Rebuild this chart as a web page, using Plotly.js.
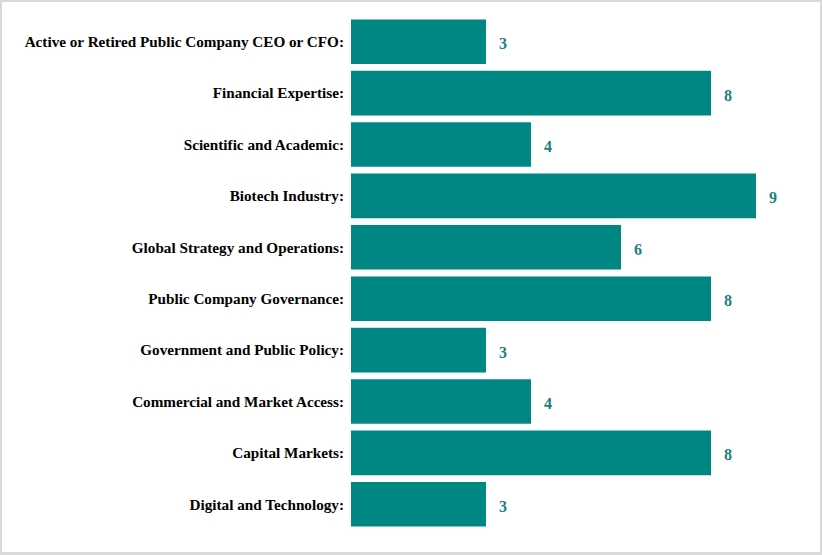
<!DOCTYPE html>
<html>
<head>
<meta charset="utf-8">
<script src="https://cdn.plot.ly/plotly-3.0.1.min.js"></script>
<style>
html,body{margin:0;padding:0;background:#fff;}
#wrap{position:relative;width:822px;height:555px;}
#chart{position:absolute;left:0;top:0;width:822px;height:555px;}
#frame{position:absolute;left:0;top:0;width:818px;height:550px;border:2px solid #d9d9d9;border-bottom-width:3px;pointer-events:none;}
</style>
</head>
<body>
<div id="wrap"><div id="chart"></div><div id="frame"></div></div>
<script>
const categories = [
  "Active or Retired Public Company CEO or CFO:",
  "Financial Expertise:",
  "Scientific and Academic:",
  "Biotech Industry:",
  "Global Strategy and Operations:",
  "Public Company Governance:",
  "Government and Public Policy:",
  "Commercial and Market Access:",
  "Capital Markets:",
  "Digital and Technology:"
];
const values = [3, 8, 4, 9, 6, 8, 3, 4, 8, 3];

const barColor = "#008784";
const labelColor = "#1b7f80";

const trace = {
  type: "bar",
  orientation: "h",
  x: values,
  y: categories,
  marker: {color: barColor},
  hoverinfo: "none"
};

const annotations = values.map((v, i) => ({
  x: v, y: categories[i], xref: "x", yref: "y",
  text: String(v), showarrow: false, xanchor: "left", xshift: 11, yshift: -2,
  font: {family: "Liberation Serif, Times New Roman, serif", size: 16, color: labelColor, weight: "bold"}
}));

const layout = {
  width: 822, height: 555,
  margin: {l: 351, r: 21, t: 16, b: 25},
  paper_bgcolor: "#ffffff", plot_bgcolor: "#ffffff",
  showlegend: false,
  bargap: 0.133,
  xaxis: {range: [0, 10], visible: false, fixedrange: true},
  yaxis: {
    autorange: "reversed", type: "category",
    showgrid: false, zeroline: false, showline: false, ticks: "",
    ticklabelstandoff: 6,
    tickfont: {family: "Liberation Serif, Times New Roman, serif", size: 15.2, color: "#000000", weight: "bold"}
  },
  annotations: annotations
};

Plotly.newPlot("chart", [trace], layout, {displayModeBar: false, staticPlot: true});
</script>
</body>
</html>
